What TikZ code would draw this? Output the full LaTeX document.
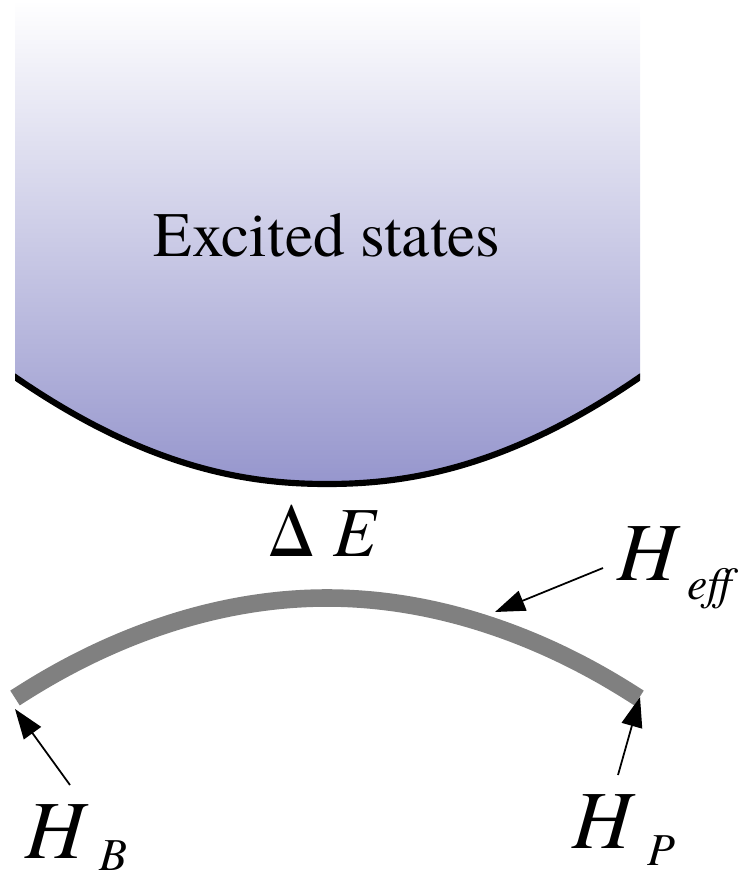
\documentclass[tikz,border=0pt]{standalone}
\usepackage{fontspec}
\setmainfont{texgyretermes}[Extension=.otf, UprightFont=*-regular,
  ItalicFont=*-italic, BoldFont=*-bold, BoldItalicFont=*-bolditalic]
\usetikzlibrary{arrows.meta}
\definecolor{statebottom}{RGB}{150,150,205}
\definecolor{arcgray}{RGB}{128,128,128}
\tikzset{
  pointer/.style={-{Triangle[length=17pt,width=12pt]}, line width=1pt},
  symb/.style={inner sep=0pt, anchor=base west},
  edgeline/.style={line width=3.5pt}
}
\newcommand{\bigH}{\fontsize{47}{50}\selectfont\itshape H}
\newcommand{\hsub}[3]{{\bigH}\kern#1\raisebox{#2}{\fontsize{26}{28}\selectfont\itshape #3}}

\begin{document}
\begin{tikzpicture}[x=0.02cm, y=-0.02cm]
  \useasboundingbox (0,0) rectangle (753,878);

  % band of excited states
  \shade[top color=white, bottom color=statebottom]
    (15,0) -- (15,377) .. controls (150,470) and (250,484) .. (327,484)
    .. controls (404,484) and (505,470) .. (640,377) -- (640,0) -- cycle;
  \begin{scope}
    \clip (15,300) rectangle (640,500);
    \draw[edgeline] (10,374) -- (15,377) .. controls (150,470) and (250,484) .. (327,484)
      .. controls (404,484) and (505,470) .. (640,377) -- (645,374);
  \end{scope}
  \node[font=\fontsize{36}{40}\selectfont, inner sep=0pt, anchor=base] (exc) at (327,256) {Excited states};

  % gap
  \node[symb] (gap) at (268,556) {\fontsize{40}{44}\selectfont Δ\kern11pt\textit{E}};

  % low lying curve
  \coordinate (bend) at (15,698);
  \coordinate (top) at (327,598);
  \coordinate (pend) at (639,698);
  \draw[arcgray, line width=10pt] (bend) parabola bend (top) (pend);

  % labels
  \node[symb] (hb) at (25,858) {\hsub{8pt}{-0.24cm}{B}};
  \node[symb] (hp) at (572,848) {\hsub{9pt}{-0.34cm}{P}};
  \node[symb] (heff) at (617,580) {\hsub{6pt}{-0.38cm}{ef{}f}};

  \coordinate (hbtail) at (70,785);
  \coordinate (hbtip) at (15,709);
  \coordinate (hptail) at (618,775);
  \coordinate (hptip) at (640,697);
  \coordinate (hefftail) at (603,568);
  \coordinate (hefftip) at (495,612);
  \draw[pointer] (hbtail) -- (hbtip);
  \draw[pointer] (hptail) -- (hptip);
  \draw[pointer] (hefftail) -- (hefftip);
\end{tikzpicture}
\end{document}
